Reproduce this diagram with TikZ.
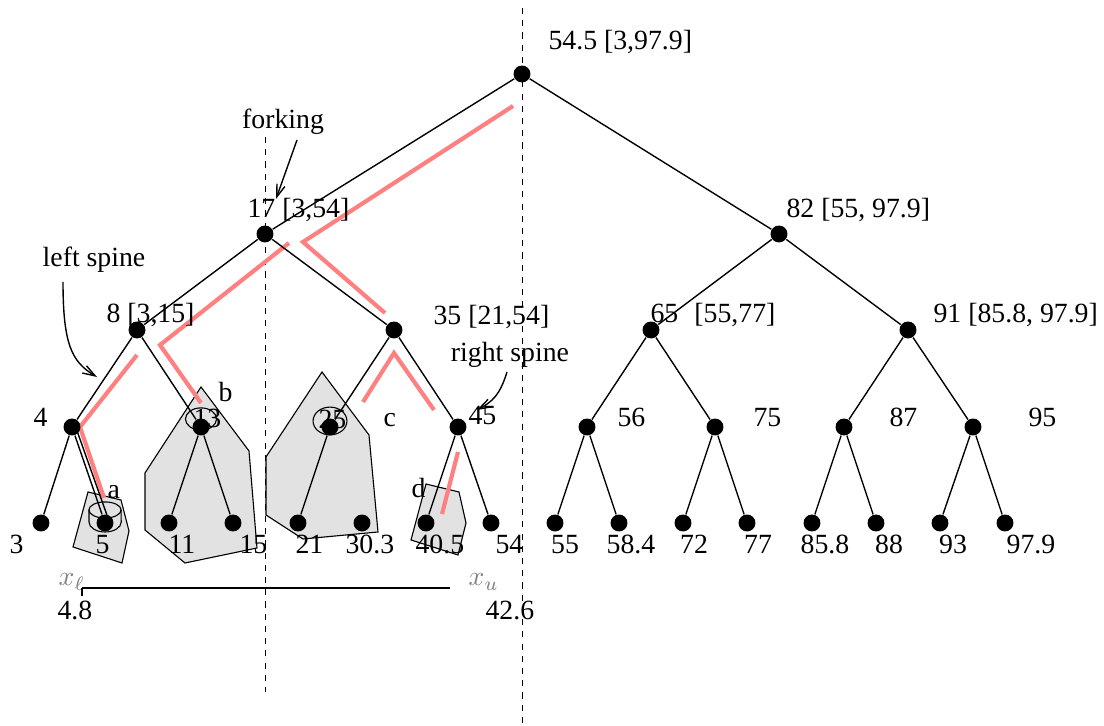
\documentclass[tikz,border=0pt]{standalone}
\usepackage{fontspec}
\setmainfont{Liberation Serif}
\usepackage{tikz}
\usetikzlibrary{arrows.meta,calc}
\definecolor{spinered}{HTML}{FF8080}
\definecolor{regiongray}{HTML}{E2E2E2}

\begin{document}
\begin{tikzpicture}[x=0.36pt,y=-0.36pt,
  dot/.style={circle,fill=black,inner sep=0pt,minimum size=6.1pt},
  edge/.style={line width=0.5pt},
  lbl/.style={inner sep=0pt,anchor=base west,font=\fontsize{10}{12}\selectfont},
  spine/.style={spinered,line width=1.5pt},
  region/.style={draw=black,line width=0.4pt,fill=regiongray},
  guide/.style={line width=0.35pt,dash pattern=on 2.2pt off 2.2pt},
  pointer/.style={line width=0.5pt,-{Straight Barb[length=4.5pt,width=3pt]}}]
  \useasboundingbox (0,0) rectangle (1104,726);

  % query regions a, b, c, d
  \draw[region] (88,492) -- (121,500) -- (129,531) -- (122,563) -- (73,547) -- cycle;
  \draw[region] (201,387) -- (249,451) -- (257,548) -- (185,563) -- (145,530) -- (145,473) -- cycle;
  \draw[region] (322,372) -- (369,435) -- (378,532) -- (303,539) -- (266,515) -- (266,457) -- cycle;
  \draw[region] (426,484) -- (459,492) -- (466,523) -- (458,555) -- (411,540) -- cycle;

  % split lines
  \draw[guide] (265,137) -- (265,692);
  \draw[guide] (522,8) -- (522,726);

  % spines
  \draw[spine] (513,106) -- (303,242) -- (385,313);
  \draw[spine] (289,243) -- (160,345) -- (201,403);
  \draw[spine] (137,355) -- (80,427) -- (104,498);
  \draw[spine] (363,402) -- (394,353) -- (434,410);
  \draw[spine] (458,452) -- (442,514);

  % labels
  \node[lbl] (t545) at (548,50) {54.5 [3,97.9]};
  \node[lbl,anchor=base] (tfork) at (283,129) {forking};
  \node[lbl] (t17) at (247,218) {17 [3,54]};
  \node[lbl] (t82) at (786,218) {82 [55, 97.9]};
  \node[lbl,anchor=base] (tleft) at (94,267) {left spine};
  \node[lbl] (t8) at (106,323) {8 [3,15]};
  \node[lbl] (t35) at (433,325) {35 [21,54]};
  \node[lbl] (t65) at (650,323) {65\hspace{5.8pt}[55,77]};
  \node[lbl] (t91) at (933,323) {91 [85.8, 97.9]};
  \node[lbl,anchor=base] (tright) at (510,362) {right spine};
  \node[lbl] (t4) at (33,427) {4};
  \node[lbl] (t13) at (193,428) {13};
  \node[lbl] (t25) at (318,429) {25};
  \node[lbl] (tc) at (383,427) {c};
  \node[lbl] (t45) at (468,425) {45};
  \node[lbl] (t56) at (617,427) {56};
  \node[lbl] (t75) at (753,427) {75};
  \node[lbl] (t87) at (889,427) {87};
  \node[lbl] (t95) at (1028,427) {95};
  \node[lbl] (tb) at (218,402) {b};
  \node[lbl] (ta) at (107,499) {a};
  \node[lbl] (td) at (411,498) {d};
  \node[lbl] (t3) at (9,554) {3};
  \node[lbl] (t5) at (95,554) {5};
  \node[lbl] (t11) at (168,554) {11};
  \node[lbl] (t15) at (239,554) {15};
  \node[lbl] (t21) at (295,554) {21};
  \node[lbl] (t303) at (345,554) {30.3};
  \node[lbl] (t405) at (415,554) {40.5};
  \node[lbl] (t54) at (495,554) {54};
  \node[lbl,anchor=base] (t55) at (565,554) {55};
  \node[lbl,anchor=base] (t584) at (631,554) {58.4};
  \node[lbl,anchor=base] (t72) at (694,554) {72};
  \node[lbl,anchor=base] (t77) at (758,554) {77};
  \node[lbl,anchor=base] (t858) at (825,554) {85.8};
  \node[lbl,anchor=base] (t88) at (889,554) {88};
  \node[lbl,anchor=base] (t93) at (953,554) {93};
  \node[lbl,anchor=base] (t979) at (1031,554) {97.9};
  \node[lbl,gray] (txl) at (58,586) {$x_\ell$};
  \node[lbl,gray] (txu) at (468,586) {$x_u$};
  \node[lbl] (t48) at (57,620) {4.8};
  \node[lbl] (t426) at (485,620) {42.6};

  % marked nodes
  \draw[line width=0.4pt] (201,419) ellipse [x radius=5.6pt, y radius=4pt];
  \draw[line width=0.4pt] (330,421) ellipse [x radius=6.1pt, y radius=5pt];
  \draw[line width=0.4pt] (105,510) ellipse [x radius=5.8pt, y radius=2.9pt];
  \draw[line width=0.4pt] (89,510) -- (89,522) arc [start angle=180, end angle=360, x radius=5.8pt, y radius=3.6pt] -- (121,510);

  % tree
  \node[dot] (r) at (522,74) {};
  \node[dot] (n17) at (265,234) {};
  \node[dot] (n82) at (779,234) {};
  \node[dot] (n8) at (137,330) {};
  \node[dot] (n35) at (394,330) {};
  \node[dot] (n65) at (651,330) {};
  \node[dot] (n91) at (908,330) {};
  \node[dot] (n4) at (72,427) {};
  \node[dot] (n13) at (201,427) {};
  \node[dot] (n25) at (330,427) {};
  \node[dot] (n45) at (458,427) {};
  \node[dot] (n56) at (587,427) {};
  \node[dot] (n75) at (715,427) {};
  \node[dot] (n87) at (844,427) {};
  \node[dot] (n95) at (973,427) {};
  \foreach \nm/\x in {l3/41,l5/105,l11/169,l15/233,l21/298,l303/362,l405/426,l54/491,
                      l55/555,l584/619,l72/683,l77/747,l858/812,l88/876,l93/940,l979/1005}
    \node[dot] (\nm) at (\x,523) {};

  \foreach \a/\b in {r/n17,r/n82,n17/n8,n17/n35,n82/n65,n82/n91,
                     n8/n4,n8/n13,n35/n25,n35/n45,n65/n56,n65/n75,n91/n87,n91/n95,
                     n4/l3,n4/l5,n13/l11,n13/l15,n25/l21,n45/l405,n45/l54,
                     n56/l55,n56/l584,n75/l72,n75/l77,n87/l858,n87/l88,n95/l93,n95/l979}
    \draw[edge] (\a) -- (\b);
  \draw[edge] ([shift={(4,1)}]n4.center) -- ([shift={(3,-5)}]l5.center);

  % pointers
  \coordinate (forkfrom) at (297,140);
  \coordinate (forkto) at (276,199);
  \coordinate (leftfrom) at (63,282);
  \coordinate (leftto) at (97,377);
  \coordinate (rightfrom) at (507,372);
  \coordinate (rightto) at (477,410);
  \draw[pointer] (forkfrom) -- (forkto);
  \draw[pointer] (leftfrom) .. controls (63,345) and (72,362) .. (leftto);
  \draw[pointer] (rightfrom) .. controls (500,395) and (492,402) .. (rightto);

  % query interval
  \coordinate (xl) at (82,588);
  \coordinate (xu) at (450,588);
  \draw[edge] (xl) -- (xu);
  \draw[line width=0.9pt] (xl) -- ++(0,8);
\end{tikzpicture}
\end{document}
